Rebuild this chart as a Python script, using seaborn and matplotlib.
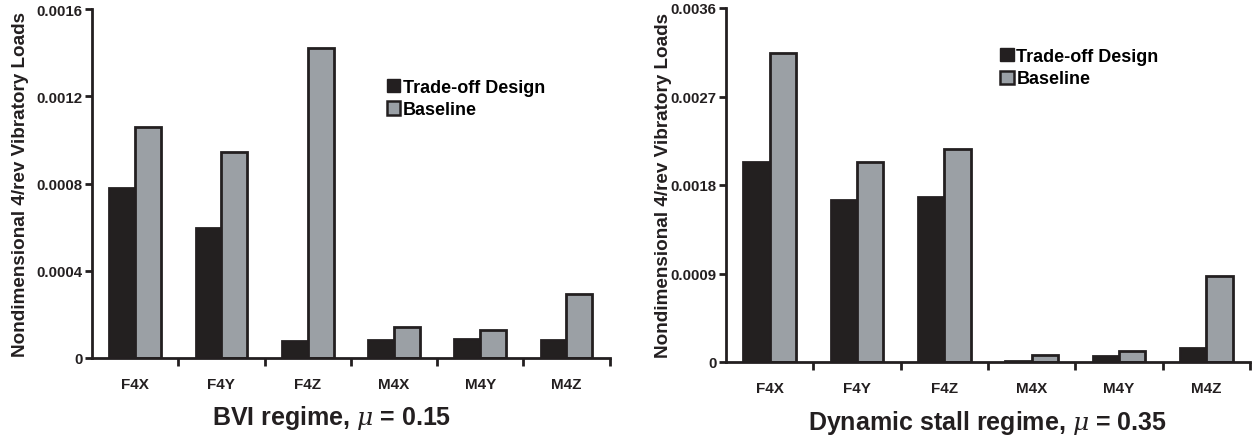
import numpy as np
import pandas as pd
import seaborn as sns
import matplotlib.pyplot as plt
from matplotlib.patches import Patch
from matplotlib.ticker import FixedLocator

loads = ['F4X', 'F4Y', 'F4Z', 'M4X', 'M4Y', 'M4Z']
designs = ['Trade-off Design', 'Baseline']

# BVI regime, mu = 0.15
bvi_tradeoff = [0.00078, 0.000596, 0.000078, 0.000084, 0.000089, 0.000083]
bvi_baseline = [0.00106, 0.000945, 0.00142, 0.000143, 0.000127, 0.000295]

# Dynamic stall regime, mu = 0.35
ds_tradeoff = [0.00203, 0.00165, 0.00168, 0.00001, 0.000057, 0.000138]
ds_baseline = [0.00314, 0.00203, 0.00217, 0.000068, 0.000112, 0.000875]

bvi_ticks = [0, 0.0004, 0.0008, 0.0012, 0.0016]
bvi_ticklabels = ['0', '0.0004', '0.0008', '0.0012', '0.0016']
ds_ticks = [0, 0.0009, 0.0018, 0.0027, 0.0036]
ds_ticklabels = ['0', '0.0009', '0.0018', '0.0027', '0.0036']

dark = '#231f20'
grey = '#9aa0a6'

plt.rcParams['font.family'] = ['Liberation Sans', 'DejaVu Sans']
plt.rcParams['mathtext.fontset'] = 'custom'
plt.rcParams['mathtext.it'] = 'DejaVu Serif:italic'

fig = plt.figure(figsize=(12.55, 4.39), dpi=100)
ax1 = fig.add_axes([92 / 1255, 1 - 359 / 439, (609.5 - 92) / 1255, 349 / 439])
ax2 = fig.add_axes([726 / 1255, 1 - 363 / 439, (1250 - 726) / 1255, 354 / 439])


def make_df(trade, base):
  rows = []
  for k, name in enumerate(loads):
    rows.append({'load': name, 'design': designs[0], 'value': trade[k]})
    rows.append({'load': name, 'design': designs[1], 'value': base[k]})
  return pd.DataFrame(rows)


panels = [
  (ax1, make_df(bvi_tradeoff, bvi_baseline), bvi_ticks, bvi_ticklabels,
   r'BVI regime, $\mu$ = 0.15', (0.5695, 0.80), 0.463, 5),
  (ax2, make_df(ds_tradeoff, ds_baseline), ds_ticks, ds_ticklabels,
   r'Dynamic stall regime, $\mu$ = 0.35', (0.523, 0.887), 0.498, -1),
]

for ax, df, ticks, ticklabels, title, legpos, title_x, ypad in panels:
  sns.barplot(data=df, x='load', y='value', hue='design', palette=[dark, grey],
              width=0.6, edgecolor=dark, linewidth=2, ax=ax, legend=False)
  ax.set_xlim(-0.5, 5.5)
  ax.set_ylim(0, ticks[-1])
  ax.set_yticks(ticks)
  ax.set_yticklabels(ticklabels, fontsize=10.8, fontweight='bold', color=dark)
  ax.set_xticks(range(len(loads)))
  ax.set_xticklabels(loads, fontsize=11, fontweight='bold', color=dark)
  ax.tick_params(axis='x', which='major', length=0, pad=14)
  ax.xaxis.set_minor_locator(FixedLocator(np.arange(0.5, 6, 1)))
  ax.tick_params(axis='x', which='minor', length=6, width=2, color=dark, direction='out')
  ax.tick_params(axis='y', length=5, width=2, color=dark, direction='out', pad=2)
  for s in ['top', 'right']:
    ax.spines[s].set_visible(False)
  for s in ['left', 'bottom']:
    ax.spines[s].set_linewidth(2)
    ax.spines[s].set_color(dark)
  ax.set_ylabel('Nondimensional 4/rev Vibratory Loads', fontsize=13.6,
                fontweight='bold', color=dark, labelpad=ypad)
  ax.set_xlabel(title, fontsize=18, fontweight='bold', color=dark, labelpad=11)
  ax.xaxis.set_label_coords(title_x, -0.13)
  handles = [Patch(facecolor=dark, edgecolor=dark), Patch(facecolor=grey, edgecolor=dark, linewidth=1.8)]
  ax.legend(handles, designs, loc='upper left', bbox_to_anchor=legpos, frameon=False,
            prop={'weight': 'bold', 'size': 13}, handlelength=0.75, handleheight=0.75,
            handletextpad=0.15, labelspacing=0.3, borderpad=0, borderaxespad=0)

fig.savefig('out.png', dpi=100)
